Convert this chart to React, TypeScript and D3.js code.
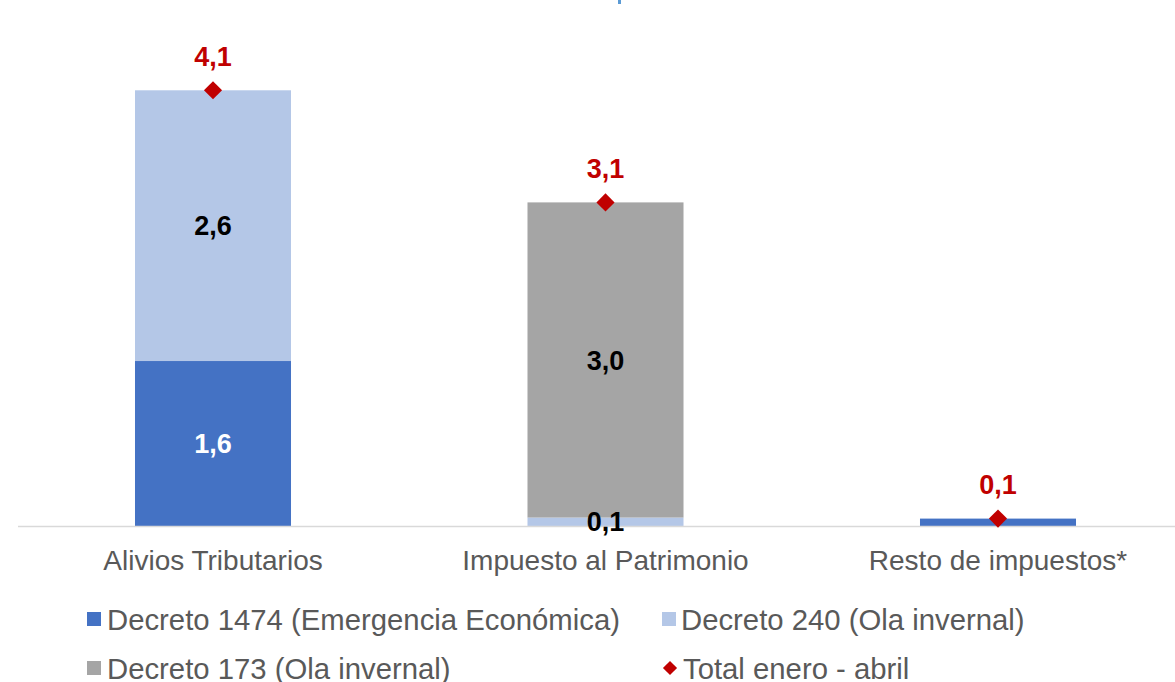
import React from "react";
import * as d3 from "d3";

const categories = ["Alivios Tributarios", "Impuesto al Patrimonio", "Resto de impuestos*"];
const decreto1474 = [1.56, 0, 0.07];
const decreto240 = [2.56, 0.08, 0];
const decreto173 = [0, 2.98, 0];
const totals = [4.12, 3.06, 0.07];
const totalLabels = ["4,1", "3,1", "0,1"];

const seriesNames = [
  "Decreto 1474 (Emergencia Económica)",
  "Decreto 240 (Ola invernal)",
  "Decreto 173 (Ola invernal)",
];
const totalName = "Total enero - abril";
const seriesColors = ["#4472C4", "#B4C7E7", "#A5A5A5"];
const labelColors = ["#FFFFFF", "#000000", "#000000"];
const totalColor = "#C00000";

const W = 1175;
const H = 682;

export default function App() {
  const xs = d3
    .scaleBand<string>()
    .domain(categories)
    .range([213 - 392.5 / 2, 998 + 392.5 / 2])
    .paddingInner(0.6025)
    .paddingOuter(0.30125);
  const y = d3.scaleLinear().domain([0, 4.9]).range([526, 7.8]);
  const fmt = (v: number) => d3.format(".1f")(v).replace(".", ",");

  const series = [decreto1474, decreto240, decreto173];
  const stack = d3
    .stack<number>()
    .keys(["0", "1", "2"])
    .value((i, k) => series[+k][i]);
  const stacked = stack(categories.map((_, i) => i));

  const diamond = d3.symbol().type(d3.symbolSquare).size(165)();
  const diamondSmall = d3.symbol().type(d3.symbolSquare).size(100)();
  const bw = xs.bandwidth();

  return (
    <svg
      width={W}
      height={H}
      style={{ position: "absolute", left: 0, top: 0, background: "#fff" }}
      fontFamily="'Liberation Sans', Arial, sans-serif"
    >
      <rect x={618} y={0} width={3} height={4} fill="#5B9BD5" />
      {stacked.map((layer, si) =>
        layer.map((d, i) => {
          const v = d[1] - d[0];
          if (v <= 0) return null;
          const x0 = xs(categories[i])!;
          return (
            <rect
              key={`b${si}-${i}`}
              x={x0}
              y={y(d[1])}
              width={bw}
              height={y(d[0]) - y(d[1])}
              fill={seriesColors[si]}
            />
          );
        })
      )}
      <line x1={18} x2={W} y1={526.5} y2={526.5} stroke="#D9D9D9" strokeWidth={1.5} />
      {stacked.map((layer, si) =>
        layer.map((d, i) => {
          const v = d[1] - d[0];
          if (v < 0.075) return null;
          const cx = xs(categories[i])! + bw / 2;
          const cy = (y(d[0]) + y(d[1])) / 2;
          return (
            <text
              key={`l${si}-${i}`}
              x={cx}
              y={cy}
              dy="0.36em"
              textAnchor="middle"
              fontWeight="bold"
              fontSize={27}
              fill={labelColors[si]}
            >
              {fmt(v)}
            </text>
          );
        })
      )}
      {totals.map((t, i) => {
        const cx = xs(categories[i])! + bw / 2;
        const cy = y(t);
        return (
          <g key={`t${i}`}>
            <path d={diamond!} transform={`translate(${cx},${cy}) rotate(45)`} fill={totalColor} />
            <text
              x={cx}
              y={cy - 34}
              dy="0.36em"
              textAnchor="middle"
              fontWeight="bold"
              fontSize={27}
              fill={totalColor}
            >
              {totalLabels[i]}
            </text>
          </g>
        );
      })}
      {categories.map((c) => (
        <text
          key={c}
          x={xs(c)! + bw / 2}
          y={560}
          dy="0.36em"
          textAnchor="middle"
          fontSize={28}
          fill="#595959"
        >
          {c}
        </text>
      ))}
      <g fontSize={29.3} fill="#595959">
        <rect x={87} y={612} width={14} height={14} fill={seriesColors[0]} />
        <text x={107} y={619} dy="0.36em">{seriesNames[0]}</text>
        <rect x={662} y={612} width={14} height={14} fill={seriesColors[1]} />
        <text x={681} y={619} dy="0.36em">{seriesNames[1]}</text>
        <rect x={87} y={661} width={14} height={14} fill={seriesColors[2]} />
        <text x={107} y={668} dy="0.36em">{seriesNames[2]}</text>
        <path d={diamondSmall!} transform="translate(670,668) rotate(45)" fill={totalColor} />
        <text x={683} y={668} dy="0.36em">{totalName}</text>
      </g>
    </svg>
  );
}
